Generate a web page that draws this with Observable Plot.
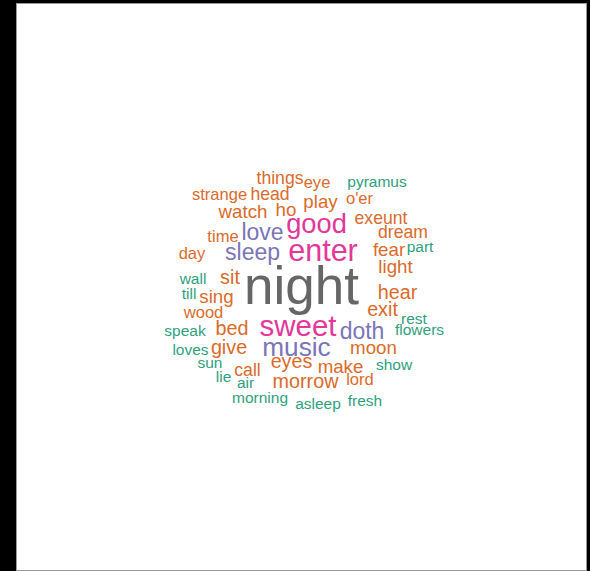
<!DOCTYPE html>
<html>
<head>
<meta charset="utf-8">
<script src="https://cdn.jsdelivr.net/npm/d3@7"></script>
<script src="https://cdn.jsdelivr.net/npm/@observablehq/plot@0.6"></script>
<style>
  html, body { margin: 0; padding: 0; background: #000; width: 590px; height: 571px; overflow: hidden; }
  #panel { position: absolute; left: 16px; top: 3px; width: 571px; height: 568px; background: #fff; border: 1px solid #9a9a9a; box-sizing: border-box; }
  #chart { position: absolute; left: 0; top: 0; }
  #chart svg { background: transparent; }
</style>
</head>
<body>
<div id="panel"></div>
<div id="chart"></div>
<script>
// Word cloud data: words, frequencies, and layout positions (word centre x, baseline y)
const words = ["night","enter","sweet","good","music","sleep","love","doth",
  "things","eye","pyramus","strange","head","o'er","watch","ho","play","exeunt",
  "time","dream","day","fear","part","light","wall","sit","till","sing","hear",
  "wood","exit","rest","speak","bed","flowers","moon","loves","give","sun","eyes",
  "make","show","lie","call","air","morrow","lord","morning","asleep","fresh"];
const freqs = [40,19,18,16,15,12,12,12,
  7,6,5,6,7,6,8,8,8,7,
  6,7,6,8,5,8,5,9,5,8,9,
  6,9,5,5,9,5,8,5,9,5,9,
  8,5,5,7,5,9,6,5,5,5];
const layoutX = [301,322.5,297.5,316,296,252,262,361.5,
  279.5,316.5,376.5,219,269.5,359,242.5,285.5,320,380.5,
  222.5,402.5,191.5,388.5,419.5,395,192.5,229.5,188.5,216,397,
  203,382,413.5,184.5,231.5,419,373,190,228.5,209.5,291,
  340,393.5,223,247,245,305,359.5,259.5,317.5,364.5];
const layoutY = [303,260,335,232,355,259,239,338,
  183,187,186,199,199,203,217,215,207,223,
  241,237,258,255,251,272,283,283,298,302,298,
  317,315,323,335,334,334,353,354,353,367,367,
  372,369,381,375,387,387,384,402,408,405];

const binNames = ["rare","low","mid","high","top"];
const binColors = ["#2FA07E","#DA6B2A","#7A75B7","#E3379A","#666666"];
const binOf = f => f <= 5 ? "rare" : f <= 10 ? "low" : f <= 15 ? "mid" : f <= 30 ? "high" : "top";

const data = words.map((w, i) => ({word: w, freq: freqs[i], x: layoutX[i], y: layoutY[i]}));
const size = d3.scaleLinear().domain([d3.min(freqs), d3.max(freqs)]).range([15.5, 53]);

const chart = Plot.plot({
  width: 590,
  height: 571,
  margin: 0,
  x: {domain: [0, 590], range: [0, 590], axis: null},
  y: {domain: [0, 571], range: [0, 571], axis: null},
  color: {domain: binNames, range: binColors},
  style: {background: "transparent", fontFamily: "'Liberation Sans', Arial, Helvetica, sans-serif"},
  marks: [
    Plot.text(data, {
      x: "x",
      y: "y",
      text: "word",
      fill: d => binOf(d.freq),
      fontSize: d => size(d.freq),
      textAnchor: "middle",
      lineAnchor: "bottom",
      fontFamily: "'Liberation Sans', Arial, Helvetica, sans-serif"
    })
  ]
});
document.getElementById("chart").appendChild(chart);
</script>
</body>
</html>
